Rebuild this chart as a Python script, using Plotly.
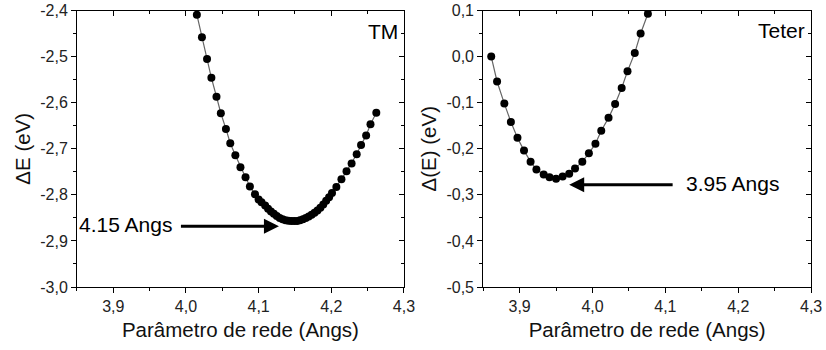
import plotly.graph_objects as go

# ---- data: TM panel ----
tm_a = [4.015, 4.022, 4.029, 4.035, 4.042, 4.048, 4.055, 4.061, 4.068, 4.075,
        4.082, 4.088, 4.095, 4.100, 4.104, 4.109, 4.113, 4.117, 4.121, 4.125,
        4.129, 4.133, 4.137, 4.141, 4.145, 4.149, 4.153, 4.157, 4.161, 4.165,
        4.169, 4.173, 4.177, 4.181, 4.185, 4.189, 4.193, 4.197, 4.201, 4.207,
        4.214, 4.221, 4.228, 4.235, 4.241, 4.248, 4.254, 4.262]
tm_e = [-2.409, -2.458, -2.505, -2.546, -2.587, -2.623, -2.657, -2.688, -2.714, -2.740,
        -2.762, -2.782, -2.799, -2.810, -2.816, -2.823, -2.830, -2.836, -2.841, -2.846,
        -2.850, -2.853, -2.855, -2.856, -2.857, -2.857, -2.857, -2.855, -2.853, -2.850,
        -2.847, -2.843, -2.839, -2.834, -2.828, -2.821, -2.813, -2.805, -2.796, -2.783,
        -2.766, -2.749, -2.732, -2.712, -2.692, -2.671, -2.647, -2.622]

# ---- data: Teter panel ----
teter_a = [3.861, 3.869, 3.879, 3.888, 3.897, 3.906, 3.915, 3.923, 3.933, 3.941,
           3.950, 3.959, 3.968, 3.976, 3.986, 3.995, 4.004, 4.012, 4.022, 4.031,
           4.040, 4.048, 4.058, 4.066, 4.076]
teter_e = [0.000, -0.054, -0.102, -0.142, -0.176, -0.204, -0.228, -0.245, -0.256, -0.262,
           -0.265, -0.260, -0.254, -0.243, -0.228, -0.210, -0.189, -0.161, -0.133, -0.103,
           -0.068, -0.032, 0.008, 0.050, 0.093]

# ---- ticks ----
x_tickvals = [3.9, 4.0, 4.1, 4.2, 4.3]
x_ticktext = ["3,9", "4,0", "4,1", "4,2", "4,3"]
tm_tickvals = [-3.0, -2.9, -2.8, -2.7, -2.6, -2.5, -2.4]
tm_ticktext = ["-3,0", "-2,9", "-2,8", "-2,7", "-2,6", "-2,5", "-2,4"]
teter_tickvals = [-0.5, -0.4, -0.3, -0.2, -0.1, 0.0, 0.1]
teter_ticktext = ["-0,5", "-0,4", "-0,3", "-0,2", "-0,1", "0,0", "0,1"]

x_range = [3.85, 4.3]
tm_range = [-3.0, -2.4]
teter_range = [-0.5, 0.1]

FONT = "Liberation Sans, Arial, sans-serif"

fig = go.Figure()

marker = dict(color="black", size=8, symbol="circle")
line = dict(color="#666666", width=1.2)

fig.add_trace(go.Scatter(x=tm_a, y=tm_e, mode="lines+markers", marker=marker,
                         line=line, xaxis="x", yaxis="y", showlegend=False))
fig.add_trace(go.Scatter(x=teter_a, y=teter_e, mode="lines+markers", marker=marker,
                         line=line, xaxis="x2", yaxis="y2", showlegend=False))
# empty traces to establish the mirror (top/right) axes
for xa, ya in [("x3", "y"), ("x", "y3"), ("x4", "y2"), ("x2", "y4")]:
    fig.add_trace(go.Scatter(x=[], y=[], xaxis=xa, yaxis=ya, showlegend=False,
                             hoverinfo="skip"))

dom_l = [0.0932, 0.489]
dom_r = [0.585, 0.982]
dom_y = [0.18, 0.97]

tickfont = dict(family=FONT, size=16, color="#222222")
titlefont = dict(family=FONT, size=20.5, color="#111111")


def main_x(domain, anchor):
    return dict(domain=domain, anchor=anchor, range=x_range, tickvals=x_tickvals,
                ticktext=x_ticktext, ticks="outside", ticklen=5, tickwidth=1,
                tickcolor="black", showline=True, linecolor="black", linewidth=1,
                showgrid=False, zeroline=False, tickfont=tickfont,
                automargin=False,
                minor=dict(dtick=0.05, tick0=3.85, ticks="outside", ticklen=3,
                           tickcolor="black", showgrid=False),
                title=dict(text="Parâmetro de rede (Angs)", font=titlefont, standoff=8))


def main_y(domain, anchor, rng, vals, text, title):
    return dict(domain=domain, anchor=anchor, range=rng, tickvals=vals, ticktext=text,
                ticks="outside", ticklen=5, tickwidth=1, tickcolor="black",
                showline=True, linecolor="black", linewidth=1, showgrid=False,
                zeroline=False, tickfont=tickfont, automargin=False,
                minor=dict(dtick=0.05, tick0=rng[0], ticks="outside", ticklen=3,
                           tickcolor="black", showgrid=False),
                title=dict(text=title, font=titlefont, standoff=4))


def mirror_x(over, anchor):
    return dict(overlaying=over, anchor=anchor, side="top", range=x_range,
                tickvals=x_tickvals, ticks="inside", ticklen=5, tickcolor="black",
                showticklabels=False, showline=True, linecolor="black", linewidth=1,
                showgrid=False, zeroline=False, automargin=False,
                minor=dict(dtick=0.05, tick0=3.85, ticks="inside", ticklen=3,
                           tickcolor="black", showgrid=False))


def mirror_y(over, anchor, rng, vals):
    return dict(overlaying=over, anchor=anchor, side="right", range=rng,
                tickvals=vals, ticks="inside", ticklen=5, tickcolor="black",
                showticklabels=False, showline=True, linecolor="black", linewidth=1,
                showgrid=False, zeroline=False, automargin=False,
                minor=dict(dtick=0.05, tick0=rng[0], ticks="inside", ticklen=3,
                           tickcolor="black", showgrid=False))


fig.update_layout(
    width=826, height=350,
    margin=dict(l=0, r=0, t=0, b=0, autoexpand=False),
    paper_bgcolor="white", plot_bgcolor="white",
    font=dict(family=FONT, color="#111111"),
    xaxis=main_x(dom_l, "y"),
    yaxis=main_y(dom_y, "x", tm_range, tm_tickvals, tm_ticktext, "ΔE (eV)"),
    xaxis2=main_x(dom_r, "y2"),
    yaxis2=main_y(dom_y, "x2", teter_range, teter_tickvals, teter_ticktext, "Δ(E) (eV)"),
    xaxis3=mirror_x("x", "y"),
    yaxis3=mirror_y("y", "x", tm_range, tm_tickvals),
    xaxis4=mirror_x("x2", "y2"),
    yaxis4=mirror_y("y2", "x2", teter_range, teter_tickvals),
)

annfont = dict(family=FONT, size=21, color="black")

# labels in panel corners
fig.add_annotation(text="TM", xref="x domain", yref="y domain", x=0.935, y=0.924,
                   xanchor="center", yanchor="middle", showarrow=False, font=annfont)
fig.add_annotation(text="Teter", xref="x2 domain", yref="y2 domain", x=0.911, y=0.928,
                   xanchor="center", yanchor="middle", showarrow=False, font=annfont)

# arrows
fig.add_annotation(x=4.128, y=-2.868, ax=3.991, ay=-2.868, xref="x", yref="y",
                   axref="x", ayref="y", text="", showarrow=True, arrowhead=2,
                   arrowsize=1, arrowwidth=3, arrowcolor="black")
fig.add_annotation(text="4.15 Angs", x=3.984, y=-2.864, xref="x", yref="y",
                   xanchor="right", yanchor="middle", showarrow=False, font=annfont)

fig.add_annotation(x=3.968, y=-0.278, ax=4.112, ay=-0.278, xref="x2", yref="y2",
                   axref="x2", ayref="y2", text="", showarrow=True, arrowhead=2,
                   arrowsize=1, arrowwidth=3, arrowcolor="black")
fig.add_annotation(text="3.95 Angs", x=4.125, y=-0.2755, xref="x2", yref="y2",
                   xanchor="left", yanchor="middle", showarrow=False, font=annfont)

fig.write_html("out.html")
